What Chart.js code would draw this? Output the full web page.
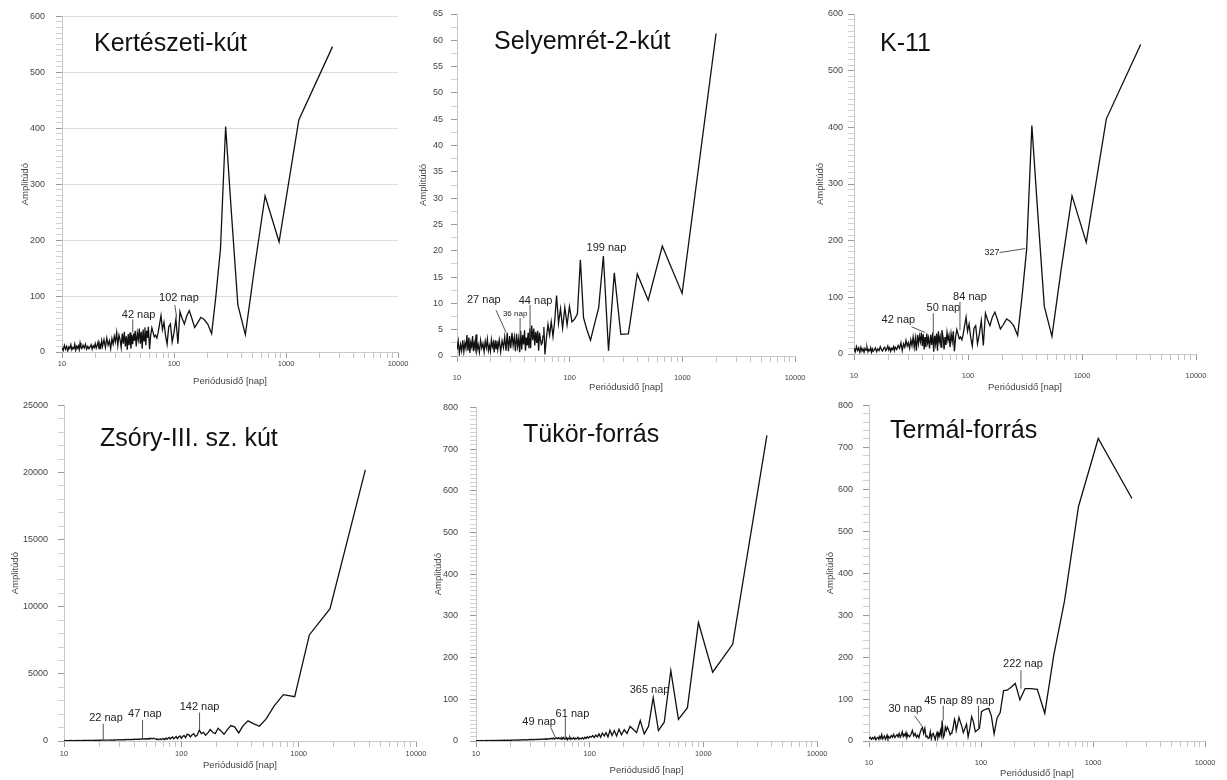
<!DOCTYPE html>
<html>
<head>
<meta charset="utf-8">
<script src="https://cdn.jsdelivr.net/npm/chart.js@4.4.1/dist/chart.umd.min.js"></script>
<style>
  body { margin: 0; background: #fff; width: 1227px; height: 780px; position: relative; overflow: hidden;
         font-family: "Liberation Sans", Arial, sans-serif; }
  canvas { position: absolute; }
  .ttl { position: absolute; font-size: 25px; line-height: 30px; color: #111; white-space: nowrap; }
</style>
</head>
<body>
<canvas id="c1" width="410" height="390" style="left:0;top:0"></canvas>
<canvas id="c2" width="407" height="396" style="left:410px;top:0"></canvas>
<canvas id="c3" width="417" height="396" style="left:810px;top:0"></canvas>
<canvas id="c4" width="430" height="390" style="left:0;top:390px"></canvas>
<canvas id="c5" width="420" height="390" style="left:410px;top:390px"></canvas>
<canvas id="c6" width="410" height="390" style="left:817px;top:390px"></canvas>

<div class="ttl" style="left:94px;top:27px">Kertészeti-kút</div>
<div class="ttl" style="left:494px;top:25px">Selyemrét-2-kút</div>
<div class="ttl" style="left:880px;top:27px">K-11</div>
<div class="ttl" style="left:100px;top:422px">Zsóry-III. sz. kút</div>
<div class="ttl" style="left:523px;top:418px">Tükör-forrás</div>
<div class="ttl" style="left:890px;top:414px">Termál-forrás</div>

<script>
// dense short-period part (10-59 nap), same period grid for all wells
const densePeriods = [10,10.25,10.5,10.75,11,11.25,11.5,11.75,12,12.25,12.5,12.75,13,13.25,13.5,13.75,14,14.25,14.5,14.75,
  15,15.4,15.8,16.2,16.6,17,17.4,17.8,18.2,18.6,19,19.4,19.8,20.2,20.6,21,21.4,21.8,22.2,22.6,
  23,23.7,24.4,25.1,25.8,26.5,27.2,27.9,28.6,29.3,
  30,30.75,31.5,32.25,33,33.75,34.5,35.25,36,36.75,37.5,38.25,39,39.75,40.5,41.25,42,42.75,43.5,44.25,
  45,46,47,48,49,50,51,52,53,54,55,56,57,58,59];

// Kertészeti-kút
const dense1 = [8,3,12,5,10,2,9,6,13,4,8,6,14,3,10,7,11,4,16,8,
  6,12,7,14,5,10,6,9,13,5,11,8,15,7,12,18,6,14,9,20,
  10,22,8,25,12,20,6,24,14,28,
  18,35,12,30,22,8,33,15,36,10,28,4,32,12,35,6,30,14,33,20,
  38,10,34,22,42,15,36,6,40,20,44,12,38,25,45];
const periods1 = [2600,1300,866.7,650,520,433.3,371.4,325,288.9,260,236.4,216.7,200,185.7,173.3,162.5,152.9,144.4,136.8,130,
  123.8,118.2,113,108.3,104,100,96.3,92.9,89.7,86.7,83.9,81.3,78.8,76.5,74.3,72.2,70.3,68.4,66.7,65,63.4,61.9,60.5];
const amps1 = [546,415,197,279,147,31,84,250,403,185,100,33,50,58,62,52,44,60,74,65,
  50,60,72,15,59,35,18,50,45,14,30,53,40,65,50,35,25,30,27,35,43,30,5];

// Selyemrét-2-kút
const dense2 = [1.2,2.8,0.5,2.2,1.0,3.0,0.8,2.5,1.5,4.0,1.0,3.5,0.6,2.6,1.8,3.8,0.9,2.4,1.4,4.1,
  1.0,2.2,0.7,3.0,1.5,2.4,0.8,2.8,1.6,3.2,1.0,2.0,0.9,3.1,1.8,2.6,0.7,3.0,1.4,2.9,
  1.2,3.1,0.8,2.9,1.6,3.6,1.0,4.4,0.9,3.8,
  1.5,4.4,2.0,3.6,0.9,4.2,1.8,3.3,0.7,4.8,1.2,4.0,2.2,4.9,1.0,3.5,2.0,4.4,1.5,5.2,
  1.5,5.8,3.0,5.2,2.0,4.6,2.5,4.8,1.0,4.4,3.2,2.2,2.5,3.8,5.5];
const periods2 = [1990,995,663.3,497.5,398,331.7,284.3,248.8,221.1,199,180.9,165.8,153.1,142.1,132.7,124.4,117.1,110.6,104.7,99.5,
  94.8,90.5,86.5,82.9,79.6,76.5,73.7,71.1,68.6,66.3,64.2,62.2,60.3];
const amps2 = [61.3,11.9,20.9,10.6,15.6,4.2,4.1,15.8,1.0,19.0,9.2,6.0,3.0,5.0,7.3,18.3,8.0,7.0,6.5,9.4,
  5.9,9.2,5.3,9.0,6.2,11.5,6.8,3.7,6.5,4.0,6.0,3.5,0.3];

// K-11
const dense3 = [10,4,13,6,11,3,12,5,9,3,10,7,12,4,8,6,11,3,9,5,
  7,11,4,9,6,13,8,5,10,12,6,9,14,7,11,5,10,8,13,6,
  12,8,15,10,20,6,18,12,24,14,
  20,10,25,15,30,12,28,6,34,18,32,22,38,14,35,8,30,12,36,20,
  28,10,34,16,38,4,32,18,36,6,40,22,30,12,42];
const periods3 = [3270,1635,1090,817.5,654,545,467.1,408.8,363.3,327,297.3,272.5,251.5,233.6,218,204.4,192.4,181.7,172.1,163.5,
  155.7,148.6,142.2,136.3,130.8,125.8,121.1,116.8,112.8,109,105.5,102.2,99.1,96.2,93.4,90.8,88.4,86.1,83.8,81.8,
  79.8,77.9,76,74.3,72.7,71.1,69.6,68.1,66.7,65.4,64.1,62.9,61.7,60.6];
const amps3 = [546,415,197,279,147,31,84,250,403,185,100,33,50,58,62,52,44,60,74,65,
  50,60,72,15,59,35,18,50,45,14,30,53,40,65,50,35,25,30,27,35,
  43,30,5,40,22,36,12,33,24,38,16,30,8,28];

// Zsóry-III. sz. kút
const dense4 = [30,25,35,28,32,26,38,30,34,29,40,33,36,31,42,35,38,34,44,37,
  40,46,38,50,42,48,45,52,47,55,50,58,52,60,55,62,58,66,60,70,
  65,72,68,78,70,82,75,88,80,92,
  85,98,90,104,95,110,98,115,102,120,108,126,112,132,118,138,122,145,128,150,
  135,160,140,172,150,165,145,185,160,200,170,190,165,210,180];
const periods4 = [3700,1850,1233.3,925,740,616.7,528.6,462.5,411.1,370,336.4,308.3,284.6,264.3,246.7,231.3,217.6,205.6,194.7,185,
  176.2,168.2,160.9,154.2,148,142.3,137,132.1,127.6,123.3,119.4,115.6,112.1,108.8,105.7,102.8,100,97.4,94.9,92.5,
  90.2,88.1,86,84.1,82.2,80.4,78.7,77.1,75.5,74,72.5,71.2,69.8,68.5,67.3,66.1,64.9,63.8,62.7,61.7,60.7];
const amps4 = [20200,9850,7900,3300,3450,2600,1650,1100,1300,1500,1150,600,1050,1150,850,500,750,950,550,650,
  850,600,430,650,550,820,450,330,550,450,300,480,500,250,400,350,200,380,300,180,
  330,250,170,300,240,150,260,200,130,220,170,110,190,150,100,170,130,90,150,120,160];

// Tükör-forrás
const dense5 = [0.8,1.0,0.7,1.1,0.9,1.2,0.8,1.1,1.0,1.3,0.9,1.2,1.1,1.4,1.0,1.3,1.2,1.5,1.1,1.4,
  1.3,1.6,1.2,1.7,1.4,1.8,1.3,1.9,1.5,2.0,1.6,2.1,1.7,2.2,1.8,2.3,1.9,2.4,2.0,2.5,
  2.2,2.8,2.3,3.0,2.5,3.2,2.6,3.4,2.8,3.6,
  3.0,3.8,3.1,4.0,3.3,4.2,3.4,4.4,3.6,4.6,3.8,4.8,4.0,5.0,4.1,5.2,4.3,5.5,4.5,5.8,
  4.8,6.5,5.0,7.2,4.5,6.0,7.5,5.2,8.0,5.8,7.0,4.6,7.8,5.5,8.5];
const periods5 = [3620,1810,1206.7,905,724,603.3,517.1,452.5,402.2,362,329.1,301.7,278.5,258.6,241.3,226.3,212.9,201.1,190.5,181,
  172.4,164.5,157.4,150.8,144.8,139.2,134.1,129.3,124.8,120.7,116.8,113.1,109.7,106.5,103.4,100.6,97.8,95.3,92.8,90.5,
  88.3,86.2,84.2,82.3,80.4,78.7,77,75.4,73.9,72.4,71,69.6,68.3,67,65.8,64.6,63.5,62.4,61.4,60.3];
const amps5 = [733,232,165,284,80,52,169,45,25,104,35,17,49,20,28,35,18,27,15,28,
  12,25,13,26,10,20,12,19,9,17,10,14,8,13,9,11,7,10,6,9,
  5,8,5,7,4,9,5,7,4,8,5,7,4,9,5,7,3,8,6,4];

// Termál-forrás
const dense6 = [6,9,4,8,5,10,3,7,9,4,11,6,15,5,9,12,4,8,14,6,
  10,7,13,9,16,8,12,15,10,18,9,14,22,11,16,12,20,9,15,13,
  10,16,25,12,18,9,14,8,20,28,
  32,18,30,10,12,6,8,22,5,16,18,10,3,14,20,8,18,12,25,15,
  49,8,14,33,25,33,28,22,15,18,22,28,40,52,45];
const periods6 = [2225,1112.5,741.7,556.3,445,370.8,317.9,278.1,247.2,222.5,202.3,185.4,171.2,158.9,148.3,139.1,130.9,123.6,117.1,111.3,
  106,101.1,96.7,92.7,89,85.6,82.4,79.5,76.7,74.2,71.8,69.5,67.4,65.4,63.6,61.8,60.1];
const amps6 = [578,721,559,334,203,66,123,125,125,98,137,128,121,120,68,55,17,60,78,76,
  74,70,30,26,22,45,58,30,10,40,30,20,35,45,56,40,25];

// x axis ticks (log), labelled decades
const xLabels = [10, 100, 1000, 10000];
const xTicks = [];
for (let e = 10; e < 10000; e *= 10) for (let m = 1; m < 10; m++) xTicks.push(m * e);
xTicks.push(10000);

// peak labels: text position and leader line in data units
const notes = {
  c1: [
    { t: '42 nap', x: 48.3, y: 66, line: [42.8, 58, 42.8, 35] },
    { t: '102 nap', x: 110.7, y: 97, line: [101.5, 84, 105.7, 62] }
  ],
  c2: [
    { t: '27 nap', x: 17.3, y: 10.6, line: [22.2, 8.7, 27.2, 4.5] },
    { t: '36 nap', x: 32.8, y: 8.0, size: 8, line: [36.3, 7.2, 36.3, 3.7] },
    { t: '44 nap', x: 49.8, y: 10.5, line: [44.5, 9.7, 44.5, 3.4] },
    { t: '199 nap', x: 212, y: 20.5 }
  ],
  c3: [
    { t: '42 nap', x: 24.5, y: 60, line: [32, 48, 42, 38] },
    { t: '50 nap', x: 60.8, y: 81, line: [49.6, 72, 49.6, 36] },
    { t: '84 nap', x: 104, y: 100, line: [85, 92, 85, 42] },
    { t: '327', x: 162, y: 179, size: 9, line: [189, 179, 317, 186] }
  ],
  c4: [
    { t: '22 nap', x: 22.8, y: 1717, line: [21.6, 1280, 21.6, 70] },
    { t: '47 nap', x: 48.9, y: 2000, line: [46.7, 1570, 46.7, 150] },
    { t: '142 nap', x: 143, y: 2536, line: [143, 2120, 143, 850] }
  ],
  c5: [
    { t: '49 nap', x: 35.9, y: 45, line: [45.4, 33, 50.4, 6] },
    { t: '61 nap', x: 70.5, y: 66, line: [61.1, 57, 61.1, 4] },
    { t: '365 nap', x: 336, y: 123 }
  ],
  c6: [
    { t: '30 nap', x: 21.1, y: 76, line: [25.5, 60, 30.2, 33] },
    { t: '45 nap', x: 43.9, y: 95, line: [46, 84, 46, 49] },
    { t: '89 nap', x: 93, y: 95, line: [94.9, 84, 94.9, 29] },
    { t: '222 nap', x: 237, y: 184, line: [227, 169, 227, 125] }
  ]
};

const notesPlugin = {
  id: 'notes',
  afterDatasetsDraw(chart) {
    const { ctx, scales: { x, y } } = chart;
    ctx.save();
    (notes[chart.canvas.id] || []).forEach(n => {
      if (n.line) {
        ctx.strokeStyle = '#555';
        ctx.lineWidth = 1;
        ctx.beginPath();
        ctx.moveTo(x.getPixelForValue(n.line[0]), y.getPixelForValue(n.line[1]));
        ctx.lineTo(x.getPixelForValue(n.line[2]), y.getPixelForValue(n.line[3]));
        ctx.stroke();
      }
      ctx.font = (n.size || 11) + 'px "Liberation Sans", Arial, sans-serif';
      ctx.fillStyle = '#222';
      ctx.textAlign = 'center';
      ctx.textBaseline = 'middle';
      ctx.fillText(n.t, x.getPixelForValue(n.x), y.getPixelForValue(n.y));
    });
    ctx.restore();
  }
};

Chart.defaults.font.family = '"Liberation Sans", Arial, sans-serif';

function points(dp, da, sp, sa) {
  const pts = dp.map((p, i) => ({ x: p, y: da[i] }))
    .concat(sp.map((p, i) => ({ x: p, y: sa[i] })));
  return pts.sort((a, b) => a.x - b.x);
}

function isDecade(v) {
  const l = Math.log10(v);
  return Math.abs(l - Math.round(l)) < 1e-9;
}

function panel(id, pts, c) {
  new Chart(document.getElementById(id), {
    type: 'line',
    data: { datasets: [{ data: pts, borderColor: '#111', borderWidth: 1.3, pointRadius: 0, tension: 0, fill: false }] },
    options: {
      responsive: false,
      animation: false,
      events: [],
      layout: { autoPadding: false, padding: { left: 0, top: c.padTop, right: c.padRight, bottom: 0 } },
      plugins: { legend: { display: false }, tooltip: { enabled: false } },
      scales: {
        x: {
          type: 'logarithmic', min: 10, max: 10000,
          border: { color: '#c8c8c8' },
          grid: {
            drawOnChartArea: false, tickLength: 6,
            tickColor: ctx => (ctx.tick && isDecade(ctx.tick.value)) ? '#999' : '#c4c4c4'
          },
          ticks: {
            autoSkip: false, maxRotation: 0, padding: c.xPad, color: '#444', font: { size: 7.5 },
            callback: v => xLabels.includes(v) ? String(v) : ''
          },
          title: { display: true, text: 'Periódusidő [nap]', color: '#444', font: { size: 9.5 },
                   padding: { top: 0, bottom: c.xTitlePad } },
          afterBuildTicks: s => { s.ticks = xTicks.map(v => ({ value: v })); },
          afterFit: s => { s.height = c.xH; }
        },
        y: {
          min: 0, max: c.yMax,
          border: { color: '#c8c8c8' },
          grid: {
            drawOnChartArea: !!c.hGrid, tickLength: 6,
            tickColor: ctx => (ctx.tick && ctx.tick.value % c.yMajor === 0) ? '#999' : '#d2d2d2',
            color: ctx => (ctx.tick && ctx.tick.value % c.yMajor === 0) ? '#dcdcdc' : 'rgba(0,0,0,0)'
          },
          ticks: {
            stepSize: c.yMinor, autoSkip: false, maxTicksLimit: 1000, padding: c.yPad, color: '#444', font: { size: 9 },
            callback: v => v % c.yMajor === 0 ? String(v) : ''
          },
          title: { display: true, text: 'Amplitúdó', color: '#444', font: { size: 9.5 },
                   padding: { top: c.yTitlePad, bottom: 0 } },
          afterFit: s => { s.width = c.yW; }
        }
      }
    },
    plugins: [notesPlugin]
  });
}

panel('c1', points(densePeriods, dense1, periods1, amps1),
  { yMax: 600, yMinor: 10, yMajor: 100, hGrid: true, yW: 62, padTop: 11, padRight: 10, xH: 38, xPad: 1.5, xTitlePad: 3.3, yPad: 11, yTitlePad: 19.3 });
panel('c2', points(densePeriods, dense2, periods2, amps2),
  { yMax: 65, yMinor: 2.5, yMajor: 5, yW: 47, padTop: 14, padRight: 19, xH: 40, xPad: 11.5, xTitlePad: 3.3, yPad: 8, yTitlePad: 7.6 });
panel('c3', points(densePeriods, dense3, periods3, amps3),
  { yMax: 600, yMinor: 10, yMajor: 100, yW: 44, padTop: 14, padRight: 31, xH: 42, xPad: 11.5, xTitlePad: 3.3, yPad: 5, yTitlePad: 4.3 });
panel('c4', points(densePeriods, dense4, periods4, amps4),
  { yMax: 25000, yMinor: 1000, yMajor: 5000, yW: 64, padTop: 6, padRight: 14, xH: 39, xPad: 2.5, xTitlePad: 9.3, yPad: 10, yTitlePad: 9.3 });
panel('c5', points(densePeriods, dense5, periods5, amps5),
  { yMax: 800, yMinor: 10, yMajor: 100, yW: 66, padTop: 9, padRight: 12, xH: 39, xPad: 2.5, xTitlePad: 4.3, yPad: 12, yTitlePad: 22.3 });
panel('c6', points(densePeriods, dense6, periods6, amps6),
  { yMax: 800, yMinor: 20, yMajor: 100, yW: 52, padTop: 6, padRight: 19, xH: 39, xPad: 11.5, xTitlePad: 1.3, yPad: 10, yTitlePad: 7.3 });
</script>
</body>
</html>
